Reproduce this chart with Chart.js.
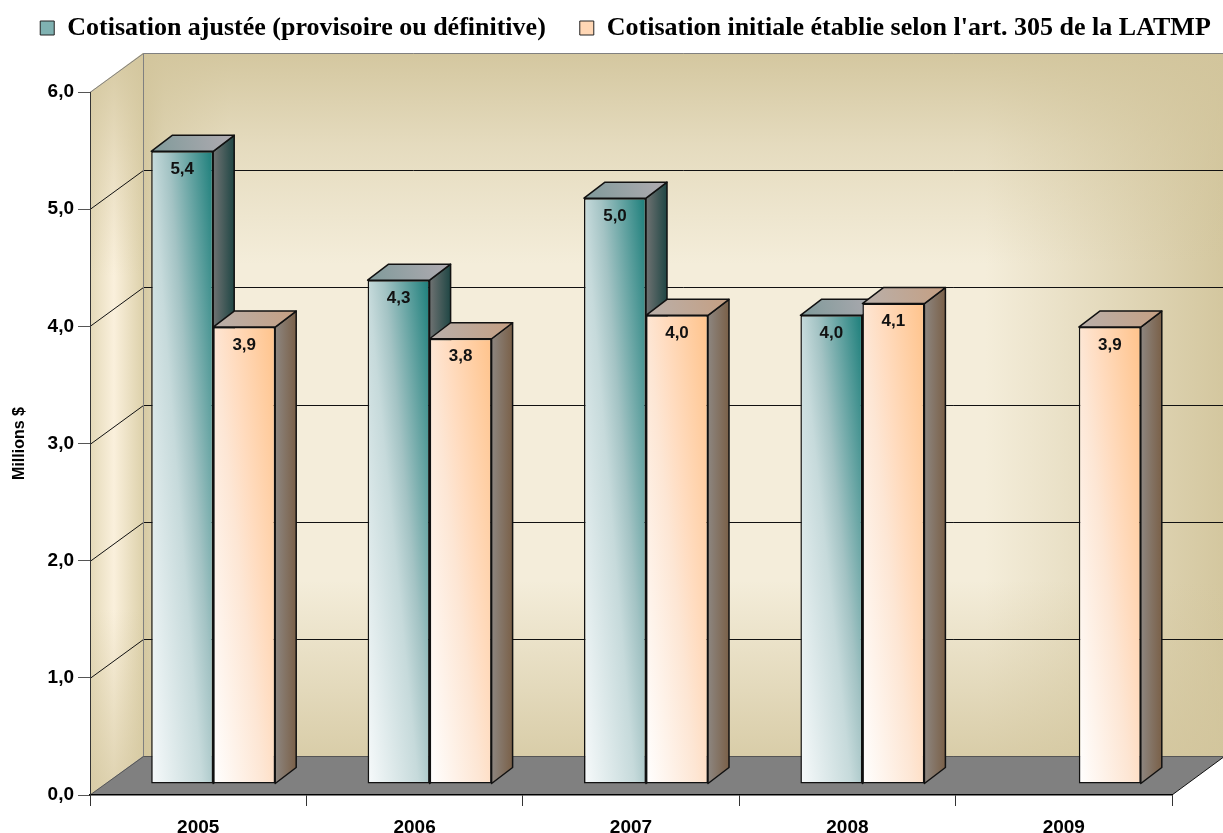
<!DOCTYPE html>
<html lang="fr">
<head>
<meta charset="utf-8">
<title>Cotisation</title>
<script src="https://cdn.jsdelivr.net/npm/chart.js@4.4.1/dist/chart.umd.min.js"></script>
<style>
  html, body { margin: 0; padding: 0; background: #fff; }
  canvas { display: block; }
</style>
</head>
<body>
<canvas id="chart" width="1223" height="833"></canvas>
<script>
const years = ["2005", "2006", "2007", "2008", "2009"];
const cotisationAjustee = [5.4, 4.3, 5.0, 4.0, null];
const cotisationInitiale = [3.9, 3.8, 4.0, 4.1, 3.9];
const yTicks = [0, 1, 2, 3, 4, 5, 6];
const seriesNames = [
  "Cotisation ajustée (provisoire ou définitive)",
  "Cotisation initiale établie selon l'art. 305 de la LATMP"
];

// 3D box geometry
const WALL_DX = 53, WALL_DY = -39;
const BAR_SHIFT_X = 15, BAR_SHIFT_Y = -11;
const BAR_DX = 21, BAR_DY = -16;
const CAT_PCT = 0.573;
const LEGEND_CENTER = 625.5, LEGEND_HALF = 640, LEGEND_SHIFT_Y = -19;

const SANS = "'Liberation Sans', Arial, sans-serif";
const SERIF = "'Liberation Serif', 'Times New Roman', serif";

const fmt = v => v.toFixed(1).replace(".", ",");

const frontStops = [
  [[0, "#f7fafb"], [0.45, "#c6dadb"], [0.6, "#a3c3c4"], [1, "#1b7e7a"]],
  [[0, "#ffffff"], [0.45, "#fde6d4"], [0.6, "#ffdcc0"], [1, "#ffc38b"]]
];
const sideStops = [["#6f7272", "#1f4644"], ["#8d8680", "#7a6048"]];
const topStops = [["#7f9a9a", "#b1abb1"], ["#b9b0ab", "#c59f82"]];
const legendFill = ["#7fb1b1", "#ffd7b5"];

function frontFill(c) {
  const chart = c.chart, xs = chart.scales.x, ys = chart.scales.y;
  const stops = frontStops[c.datasetIndex];
  if (c.type !== "data" || !xs || !ys || c.raw == null) return stops[2][1];
  const bw = (xs.right - xs.left) / years.length * CAT_PCT / 2;
  const left = xs.getPixelForValue(c.dataIndex) + (c.datasetIndex === 0 ? -bw : 0);
  const base = ys.getPixelForValue(0), top = ys.getPixelForValue(c.raw);
  const h = Math.max(base - top, 1);
  const gx = 0.55 / bw, gy = -0.45 / h;
  const n = gx * gx + gy * gy;
  const g = chart.ctx.createLinearGradient(left, base, left + gx / n, base + gy / n);
  stops.forEach(([o, col]) => g.addColorStop(o, col));
  return g;
}

function line(ctx, pts) {
  ctx.beginPath();
  pts.forEach(([x, y], i) => i ? ctx.lineTo(x, y) : ctx.moveTo(x, y));
  ctx.stroke();
}

function poly(ctx, pts, fill, stroke) {
  ctx.beginPath();
  pts.forEach(([x, y], i) => i ? ctx.lineTo(x, y) : ctx.moveTo(x, y));
  ctx.closePath();
  ctx.fillStyle = fill;
  ctx.fill();
  if (stroke) { ctx.strokeStyle = stroke; ctx.stroke(); }
}

function tanGradient(ctx, x0, y0, x1, y1, stops) {
  const g = ctx.createLinearGradient(x0, y0, x1, y1);
  stops.forEach(([o, a]) => g.addColorStop(o, `rgba(210,197,156,${a})`));
  return g;
}

const box3d = {
  id: "box3d",
  afterInit(chart) {
    const lg = chart.legend;
    if (lg && !lg._patched) {
      const fit = lg.fit;
      // keep both legend items on one line, and leave room above the box
      lg.fit = function () {
        const mw = this.maxWidth;
        this.maxWidth = 2000;
        fit.call(this);
        this.maxWidth = mw;
        this.width = mw;
        this.height = 92;
      };
      lg._patched = true;
    }
  },
  afterLayout(chart) {
    const lg = chart.legend;
    lg.left = LEGEND_CENTER - LEGEND_HALF;
    lg.right = LEGEND_CENTER + LEGEND_HALF;
    lg.top += LEGEND_SHIFT_Y; lg.bottom += LEGEND_SHIFT_Y;
  },
  beforeDraw(chart) {
    const { ctx, chartArea: a } = chart;
    const ys = chart.scales.y;
    const L = a.left, R = a.right, W = chart.width;
    const B = ys.getPixelForValue(0), T = ys.getPixelForValue(yTicks[yTicks.length - 1]);
    const bL = L + WALL_DX, bT = T + WALL_DY, bB = B + WALL_DY;
    ctx.save();

    // back wall
    ctx.fillStyle = "#f4edda";
    ctx.fillRect(bL, bT, W - bL, bB - bT);
    ctx.fillStyle = tanGradient(ctx, bL, 0, W, 0,
      [[0, 0.9], [0.02, 0.45], [0.08, 0], [0.78, 0], [1, 0.95]]);
    ctx.fillRect(bL, bT, W - bL, bB - bT);
    ctx.fillStyle = tanGradient(ctx, 0, bT, 0, bB,
      [[0, 0.95], [0.13, 0.45], [0.3, 0], [0.75, 0], [1, 0.8]]);
    ctx.fillRect(bL, bT, W - bL, bB - bT);

    // left wall
    const side = [[L, T], [bL, bT], [bL, bB], [L, B]];
    const lg = ctx.createLinearGradient(L, 0, bL, 0);
    lg.addColorStop(0, "#e4d9b8"); lg.addColorStop(0.45, "#faf0dc"); lg.addColorStop(1, "#ddd1ab");
    poly(ctx, side, lg);
    poly(ctx, side, tanGradient(ctx, 0, bT, 0, B,
      [[0, 0.9], [0.15, 0.4], [0.3, 0], [0.75, 0], [1, 0.7]]));

    // floor
    poly(ctx, [[L, B], [R, B], [R + WALL_DX, bB], [bL, bB]], "#808080");

    // grid lines on the walls
    ctx.lineWidth = 1;
    ctx.strokeStyle = "#111";
    yTicks.slice(1, -1).forEach(v => {
      const y = Math.round(ys.getPixelForValue(v)) + 0.5;
      line(ctx, [[L, y], [bL + 0.5, y + WALL_DY], [W, y + WALL_DY]]);
    });

    // edges of the box
    ctx.strokeStyle = "#808080";
    const t = Math.round(T) + 0.5;
    line(ctx, [[L, t], [bL + 0.5, t + WALL_DY], [W, t + WALL_DY]]);
    line(ctx, [[bL + 0.5, t + WALL_DY], [bL + 0.5, bB]]);
    ctx.strokeStyle = "#555";
    line(ctx, [[L, B], [bL + 0.5, bB + 0.5], [R + WALL_DX, bB + 0.5]]);
    ctx.strokeStyle = "#111";
    line(ctx, [[R, B], [R + WALL_DX, bB]]);
    ctx.restore();
  },
  beforeDatasetsDraw(chart) {
    const ctx = chart.ctx;
    ctx.save();
    ctx.translate(BAR_SHIFT_X, BAR_SHIFT_Y);
    ctx.lineWidth = 1.5;
    ctx.lineJoin = "round";
    years.forEach((_, i) => {
      chart.data.datasets.forEach((ds, d) => {
        if (ds.data[i] == null) return;
        const el = chart.getDatasetMeta(d).data[i];
        const l = el.x - el.width / 2, r = el.x + el.width / 2, t = el.y, b = el.base;
        const sg = ctx.createLinearGradient(r, 0, r + BAR_DX, 0);
        sg.addColorStop(0, sideStops[d][0]); sg.addColorStop(1, sideStops[d][1]);
        poly(ctx, [[r, t], [r + BAR_DX, t + BAR_DY], [r + BAR_DX, b + BAR_DY], [r, b]], sg, "#111");
        const tg = ctx.createLinearGradient(l, t, r + BAR_DX, t + BAR_DY);
        tg.addColorStop(0, topStops[d][0]); tg.addColorStop(1, topStops[d][1]);
        poly(ctx, [[l, t], [l + BAR_DX, t + BAR_DY], [r + BAR_DX, t + BAR_DY], [r, t]], tg, "#111");
      });
    });
  },
  afterDatasetsDraw(chart) {
    const ctx = chart.ctx;
    ctx.font = `bold 17px ${SANS}`;
    ctx.fillStyle = "#111";
    ctx.textAlign = "center";
    ctx.textBaseline = "middle";
    chart.data.datasets.forEach((ds, d) => {
      chart.getDatasetMeta(d).data.forEach((el, i) => {
        const v = ds.data[i];
        if (v == null) return;
        ctx.fillText(fmt(v), el.x, el.y + 18);
      });
    });
    ctx.restore();
  }
};

function dataset(label, data) {
  return {
    label, data,
    backgroundColor: frontFill,
    borderColor: "#111",
    borderWidth: 1.5,
    borderSkipped: false,
    categoryPercentage: CAT_PCT,
    barPercentage: 1,
    clip: false
  };
}

new Chart(document.getElementById("chart"), {
  type: "bar",
  data: {
    labels: years,
    datasets: [dataset(seriesNames[0], cotisationAjustee), dataset(seriesNames[1], cotisationInitiale)]
  },
  options: {
    responsive: false,
    devicePixelRatio: 1,
    animation: false,
    layout: { padding: { left: 0, right: 51, top: 0, bottom: 0 } },
    plugins: {
      tooltip: { enabled: false },
      legend: {
        position: "top",
        labels: {
          font: { family: SERIF, weight: "bold", size: 26 },
          color: "#000",
          boxWidth: 14,
          boxHeight: 14,
          padding: 34,
          generateLabels: chart => chart.data.datasets.map((ds, i) => ({
            text: ds.label, fillStyle: legendFill[i], strokeStyle: "#222",
            lineWidth: 1, hidden: false, datasetIndex: i, fontColor: "#000"
          }))
        }
      }
    },
    scales: {
      x: {
        offset: true,
        grid: { offset: true, drawOnChartArea: false, drawTicks: true, tickLength: 11, color: "#333" },
        border: { display: true, color: "#000", width: 1.5 },
        ticks: { font: { family: SANS, weight: "bold", size: 19 }, color: "#000", padding: 10, maxRotation: 0 },
        afterFit: s => { s.height = 38; }
      },
      y: {
        min: 0, max: 6,
        afterBuildTicks: s => { s.ticks = yTicks.map(v => ({ value: v })); },
        grid: { drawOnChartArea: false, drawTicks: true, tickLength: 12, color: "#555" },
        border: { display: true, color: "#333", width: 1 },
        ticks: { font: { family: SANS, weight: "bold", size: 19 }, color: "#000", padding: 4, callback: v => fmt(v) },
        title: {
          display: true, text: "Millions $", color: "#000",
          font: { family: SANS, weight: "bold", size: 16 },
          padding: { top: 10, bottom: 0 }
        },
        afterFit: s => { s.width = 90; }
      }
    }
  },
  plugins: [box3d]
});
</script>
</body>
</html>
